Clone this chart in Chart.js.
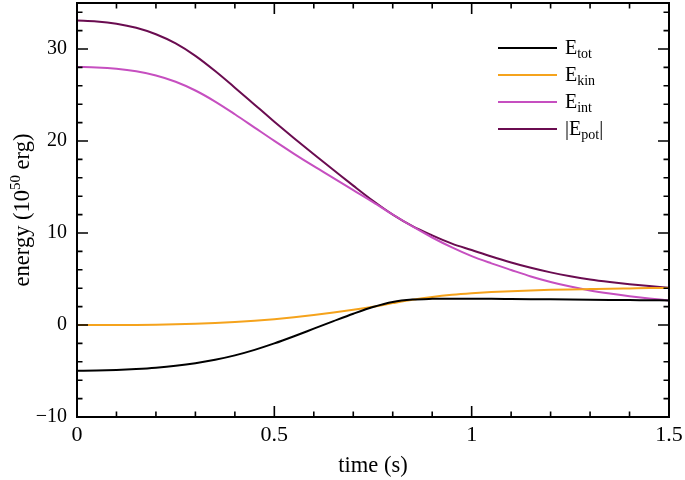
<!DOCTYPE html>
<html>
<head>
<meta charset="utf-8">
<script src="https://cdn.jsdelivr.net/npm/chart.js@4"></script>
<style>
  body { margin: 0; background: #fff; }
  #wrap { position: relative; width: 685px; height: 480px; }
  #legend { position: absolute; left: 498px; top: 34px; font-family: 'Liberation Serif', serif; font-size: 20px; color: #000; }
  .row { position: relative; height: 27px; width: 160px; }
  .swatch { position: absolute; left: 0; top: 12.5px; width: 59px; height: 2px; }
  .label { position: absolute; left: 67px; top: 3px; line-height: 20px; white-space: nowrap; }
  .label sub { font-size: 14px; line-height: 0; vertical-align: -4px; }
</style>
</head>
<body>
<div id="wrap">
  <canvas id="energyChart" width="685" height="480"></canvas>
  <div id="legend"></div>
</div>
<script>
// time (s)
const times = [0, 0.05, 0.1, 0.15, 0.2, 0.25, 0.3, 0.35, 0.4, 0.45, 0.5, 0.55, 0.6, 0.65, 0.7, 0.75,
  0.8, 0.85, 0.9, 0.95, 1.0, 1.05, 1.1, 1.15, 1.2, 1.25, 1.3, 1.35, 1.4, 1.45, 1.5];
// energies (10^50 erg)
const eTot = [-4.98, -4.95, -4.88, -4.78, -4.64, -4.44, -4.16, -3.78, -3.3, -2.7, -2.0, -1.22, -0.4, 0.42, 1.22, 1.95,
  2.5, 2.76, 2.84, 2.86, 2.86, 2.85, 2.83, 2.81, 2.79, 2.77, 2.75, 2.73, 2.71, 2.69, 2.67];
const eKin = [0, 0, 0, 0.01, 0.03, 0.07, 0.13, 0.21, 0.32, 0.46, 0.63, 0.84, 1.08, 1.35, 1.65, 1.99,
  2.38, 2.75, 3.05, 3.28, 3.45, 3.58, 3.68, 3.76, 3.82, 3.87, 3.91, 3.95, 3.98, 4.01, 4.03];
const eInt = [28.05, 28.0, 27.85, 27.57, 27.12, 26.44, 25.49, 24.29, 22.91, 21.46, 20.01, 18.61, 17.26, 15.96, 14.66, 13.36,
  12.01, 10.71, 9.51, 8.43, 7.48, 6.7, 5.98, 5.28, 4.68, 4.18, 3.76, 3.42, 3.13, 2.88, 2.67];
const ePot = [33.1, 33.0, 32.75, 32.3, 31.6, 30.6, 29.25, 27.6, 25.8, 23.95, 22.1, 20.3, 18.55, 16.85, 15.15, 13.5,
  12.0, 10.75, 9.75, 8.85, 8.15, 7.45, 6.8, 6.22, 5.72, 5.3, 4.95, 4.67, 4.43, 4.23, 4.05];

const seriesLabels = ['E_tot', 'E_kin', 'E_int', '|E_pot|'];
const seriesColors = ['#000000', '#f5a31c', '#c64fc0', '#6a0c50'];
const xTicks = [0, 0.5, 1, 1.5];
const yTicks = [-10, 0, 10, 20, 30];

const serif = "'Liberation Serif', 'Times New Roman', serif";

const toPoints = vals => times.map((t, i) => ({ x: t, y: vals[i] }));

// inward ticks on all four sides + frame + y title
const frameTicks = {
  id: 'frameTicks',
  afterDraw(chart) {
    const { ctx, chartArea: a, scales: { x, y } } = chart;
    ctx.save();
    ctx.strokeStyle = '#000';
    ctx.lineWidth = 1.6;
    ctx.beginPath();
    for (let i = 0; i <= 15; i++) {
      const px = x.getPixelForValue(i / 10);
      const len = i % 5 === 0 ? 11 : 5.5;
      ctx.moveTo(px, a.bottom); ctx.lineTo(px, a.bottom - len);
      ctx.moveTo(px, a.top); ctx.lineTo(px, a.top + len);
    }
    for (let v = -10; v <= 34; v += 2) {
      const py = y.getPixelForValue(v);
      const len = v % 10 === 0 ? 11 : 5.5;
      ctx.moveTo(a.left, py); ctx.lineTo(a.left + len, py);
      ctx.moveTo(a.right, py); ctx.lineTo(a.right - len, py);
    }
    ctx.stroke();
    ctx.lineWidth = 2;
    ctx.strokeRect(a.left, a.top, a.right - a.left, a.bottom - a.top);

    const mid = (a.top + a.bottom) / 2;
    const partA = 'energy (10', sup = '50', partB = ' erg)';
    const big = '22.5px ' + serif, small = '15px ' + serif;
    ctx.fillStyle = '#000';
    ctx.textBaseline = 'alphabetic';
    ctx.font = big;
    const wA = ctx.measureText(partA).width, wB = ctx.measureText(partB).width;
    ctx.font = small;
    const wS = ctx.measureText(sup).width;
    ctx.translate(29, mid);
    ctx.rotate(-Math.PI / 2);
    let cx = -(wA + wS + wB) / 2;
    ctx.font = big;
    ctx.fillText(partA, cx, 0); cx += wA;
    ctx.font = small;
    ctx.fillText(sup, cx, -9); cx += wS;
    ctx.font = big;
    ctx.fillText(partB, cx, 0);
    ctx.restore();
  }
};

const chart = new Chart(document.getElementById('energyChart'), {
  type: 'line',
  data: {
    datasets: [eTot, eKin, eInt, ePot].map((vals, i) => ({
      label: seriesLabels[i],
      data: toPoints(vals),
      borderColor: seriesColors[i],
      backgroundColor: seriesColors[i],
      borderWidth: 2,
      pointRadius: 0,
      cubicInterpolationMode: 'monotone',
      fill: false
    }))
  },
  options: {
    responsive: false,
    animation: false,
    layout: { padding: { top: 3, right: 16, left: 0, bottom: 0 } },
    plugins: { legend: { display: false }, tooltip: { enabled: false } },
    scales: {
      x: {
        type: 'linear', min: 0, max: 1.5,
        grid: { display: false, drawTicks: false },
        border: { display: false },
        afterBuildTicks: s => { s.ticks = xTicks.map(v => ({ value: v })); },
        ticks: { font: { family: serif, size: 22 }, color: '#000', padding: 5, maxRotation: 0, callback: v => String(v) },
        title: { display: true, text: 'time (s)', font: { family: serif, size: 22.5 }, color: '#000', padding: { top: 0, bottom: 0 } },
        afterFit: s => { s.height = 63; s.paddingLeft = 0; s.paddingRight = 0; }
      },
      y: {
        min: -10, max: 35,
        grid: { display: false, drawTicks: false },
        border: { display: false },
        afterBuildTicks: s => { s.ticks = yTicks.map(v => ({ value: v })); },
        ticks: { font: { family: serif, size: 20 }, color: '#000', padding: 10, callback: v => v < 0 ? '\u2212' + Math.abs(v) : String(v) },
        afterFit: s => { s.width = 77; s.paddingTop = 0; s.paddingBottom = 0; }
      }
    }
  },
  plugins: [frameTicks]
});

// HTML legend with subscripts, built from the datasets
document.getElementById('legend').innerHTML = chart.data.datasets.map(ds =>
  '<div class="row"><span class="swatch" style="background:' + ds.borderColor + '"></span>' +
  '<span class="label">' + ds.label.replace(/_(\w+)/, '<sub>$1</sub>') + '</span></div>'
).join('');
</script>
</body>
</html>
